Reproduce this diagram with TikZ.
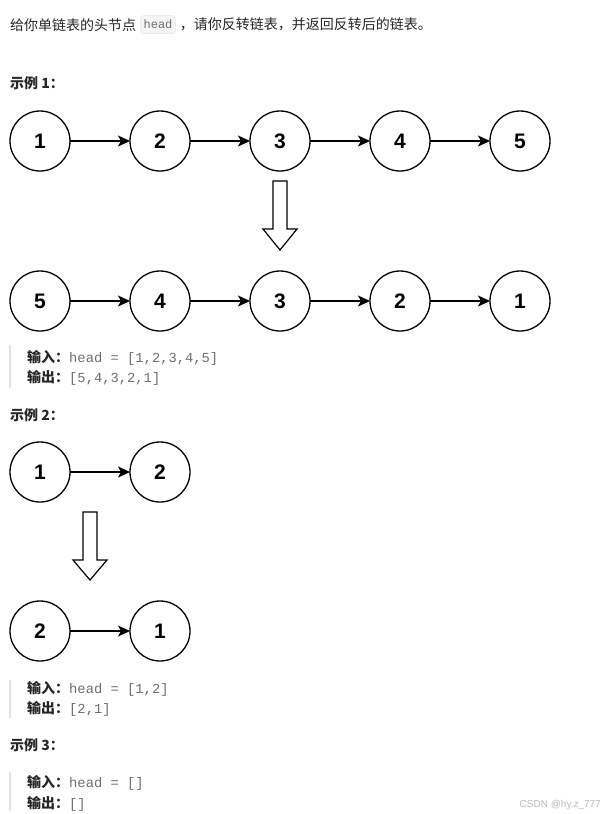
\documentclass[tikz,border=0pt]{standalone}
\usepackage{fontspec}
\setmainfont{Liberation Sans}
\newfontfamily\cjk{Noto Sans CJK SC}
\newfontfamily\codefont{Liberation Mono}
\usetikzlibrary{arrows.meta,positioning}
\definecolor{txtcol}{HTML}{262626}
\definecolor{codecol}{HTML}{6E6E6E}
\definecolor{barcol}{HTML}{E3E3E3}
\definecolor{codebg}{HTML}{F5F5F5}
\definecolor{codeln}{HTML}{E4E4E4}
\definecolor{wmcol}{HTML}{B8B8B8}

\begin{document}
\begin{tikzpicture}[x=1pt, y=-1pt, >={Stealth[length=12pt,width=11pt,inset=3pt]},
  lnode/.style={draw, circle, line width=1.3pt, minimum size=60pt, inner sep=0pt,
                outer sep=0pt, font=\fontsize{21}{21}\selectfont\bfseries},
  link/.style={->, line width=1.2pt},
  bigarrow/.style={draw, line width=1.2pt, fill=white},
  body/.style={inner sep=0pt, text=txtcol, font=\cjk\fontsize{14}{17}\selectfont},
  head/.style={body, font=\cjk\fontsize{14}{17}\selectfont\bfseries},
  codetxt/.style={inner sep=0pt, text=codecol, font=\codefont\fontsize{13.8}{16}\selectfont},
  quote/.style={draw=barcol, line width=2.5pt}]
\useasboundingbox (0,0) rectangle (606,814);
% problem statement
\node[body, anchor=base west] (intro1) at (10,30) {给你单链表的头节点};
\node[draw=codeln, fill=codebg, rounded corners=3pt, inner xsep=3pt, minimum height=18pt,
      text=codecol, font=\codefont\fontsize{12}{14}\selectfont, right=4pt of intro1] (headbox) {head};
\node[body, right=4pt of headbox] (intro2) {，请你反转链表，并返回反转后的链表。};
% example 1
\node[head, anchor=base west] (ex1) at (10,88) {示例 1：};
\node[lnode] (a1) at (40,141) {1};
\node[lnode, right=60pt of a1] (a2) {2};
\node[lnode, right=60pt of a2] (a3) {3};
\node[lnode, right=60pt of a3] (a4) {4};
\node[lnode, right=60pt of a4] (a5) {5};
\draw[link] (a1) -- (a2); \draw[link] (a2) -- (a3);
\draw[link] (a3) -- (a4); \draw[link] (a4) -- (a5);
\draw[bigarrow] (273,181) -- (287,181) -- (287,229) -- (297,229) -- (280,250)
  -- (263,229) -- (273,229) -- cycle;
\node[lnode] (b1) at (40,301) {5};
\node[lnode, right=60pt of b1] (b2) {4};
\node[lnode, right=60pt of b2] (b3) {3};
\node[lnode, right=60pt of b3] (b4) {2};
\node[lnode, right=60pt of b4] (b5) {1};
\draw[link] (b1) -- (b2); \draw[link] (b2) -- (b3);
\draw[link] (b3) -- (b4); \draw[link] (b4) -- (b5);
\draw[quote] (10,345) -- (10,388);
\node[head, anchor=base west] (in1) at (27,362) {输入：};
\node[codetxt, anchor=base west] (in1v) at (69,362) {head = [1,2,3,4,5]};
\node[head, anchor=base west] (out1) at (27,382) {输出：};
\node[codetxt, anchor=base west] (out1v) at (69,382) {[5,4,3,2,1]};
% example 2
\node[head, anchor=base west] (ex2) at (10,420) {示例 2：};
\node[lnode] (c1) at (40,472) {1};
\node[lnode, right=60pt of c1] (c2) {2};
\draw[link] (c1) -- (c2);
\draw[bigarrow] (83,512) -- (97,512) -- (97,560) -- (107,560) -- (90,580)
  -- (73,560) -- (83,560) -- cycle;
\node[lnode] (d1) at (40,631) {2};
\node[lnode, right=60pt of d1] (d2) {1};
\draw[link] (d1) -- (d2);
\draw[quote] (10,680) -- (10,718);
\node[head, anchor=base west] (in2) at (27,693) {输入：};
\node[codetxt, anchor=base west] (in2v) at (69,693) {head = [1,2]};
\node[head, anchor=base west] (out2) at (27,713) {输出：};
\node[codetxt, anchor=base west] (out2v) at (69,713) {[2,1]};
% example 3
\node[head, anchor=base west] (ex3) at (10,750) {示例 3：};
\draw[quote] (10,772) -- (10,811);
\node[head, anchor=base west] (in3) at (27,787) {输入：};
\node[codetxt, anchor=base west] (in3v) at (69,787) {head = []};
\node[head, anchor=base west] (out3) at (27,808) {输出：};
\node[codetxt, anchor=base west] (out3v) at (69,808) {[]};
% watermark
\node[inner sep=0pt, text=wmcol, font=\fontsize{10}{12}\selectfont, anchor=base east] (wm) at (601,807) {CSDN @hy.z\_777};
\end{tikzpicture}
\end{document}
